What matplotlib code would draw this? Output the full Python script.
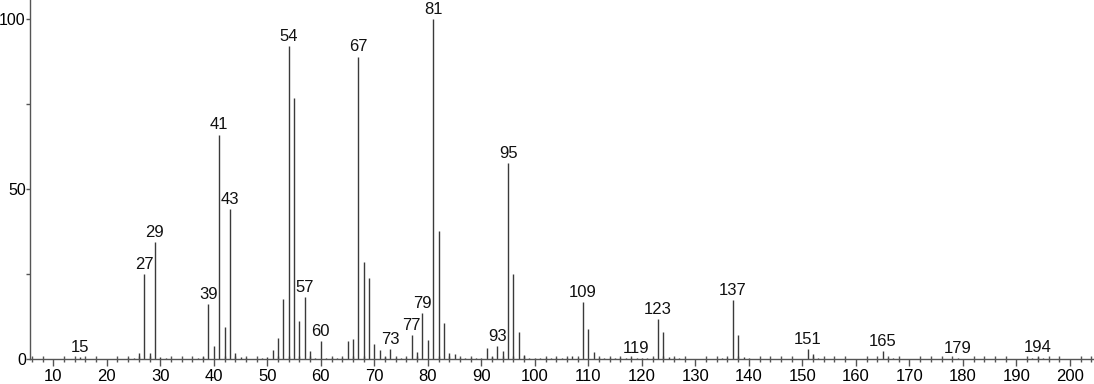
import matplotlib
matplotlib.use("Agg")
import matplotlib.pyplot as plt
from matplotlib.ticker import MultipleLocator

plt.rcParams["font.family"] = ["Liberation Sans", "DejaVu Sans"]

BAR_COLOR = "#3a3a3a"
AXIS_COLOR = "#555555"

# m/z values and relative intensities (%)
mz = [15, 24, 25, 26, 27, 28, 29, 30, 31, 37, 38, 39, 40, 41, 42, 43, 44, 45, 46,
      49, 50, 51, 52, 53, 54, 55, 56, 57, 58, 59, 60, 61, 62, 63, 64, 65, 66, 67,
      68, 69, 70, 71, 72, 73, 74, 75, 76, 77, 78, 79, 80, 81, 82, 83, 84, 85, 86,
      87, 88, 89, 90, 91, 92, 93, 94, 95, 96, 97, 98, 99, 100, 101, 102, 103, 104,
      105, 106, 107, 108, 109, 110, 111, 112, 113, 114, 115, 116, 117, 118, 119,
      120, 121, 122, 123, 124, 125, 126, 127, 135, 136, 137, 138, 139, 140, 151,
      152, 153, 165, 166, 167, 179, 193, 194, 195]
intensity = [0.6, 0.4, 0.5, 1.8, 25.0, 1.8, 34.3, 0.8, 0.4, 0.4, 0.6, 16.1, 4.0,
             66.0, 9.6, 44.0, 1.8, 0.8, 0.5, 0.3, 0.6, 2.7, 6.3, 17.7, 92.0, 76.8,
             11.2, 18.4, 2.5, 0.5, 5.3, 0.4, 0.4, 0.5, 0.4, 5.4, 5.9, 88.9, 28.7,
             24.0, 4.6, 2.8, 0.6, 3.0, 0.5, 0.4, 0.3, 7.1, 2.2, 13.5, 5.7, 100.0,
             37.8, 10.6, 1.8, 1.6, 0.5, 0.4, 0.3, 0.3, 0.3, 3.2, 0.6, 3.9, 2.4,
             57.5, 25.0, 7.9, 1.3, 0.3, 0.3, 0.3, 0.3, 0.3, 0.3, 0.3, 0.4, 1.1,
             0.4, 16.7, 8.9, 2.2, 0.5, 0.4, 0.3, 0.3, 0.3, 0.3, 0.3, 0.5, 0.3, 0.4,
             0.3, 11.8, 7.9, 0.8, 0.3, 0.3, 0.3, 0.4, 17.4, 7.1, 0.8, 0.3, 3.0,
             1.5, 0.4, 2.4, 0.5, 0.4, 0.4, 0.4, 0.6, 0.3]

labeled_peaks = [15, 27, 29, 39, 41, 43, 54, 57, 60, 67, 73, 77, 79, 81, 93, 95,
                 109, 119, 123, 137, 151, 165, 179, 194]

fig = plt.figure(figsize=(10.94, 3.84), dpi=100)
ax = fig.add_axes([30 / 1094, 24.7 / 384, 1 - 30 / 1094, 1 - 24.7 / 384])

ax.vlines(mz, 0, intensity, color=BAR_COLOR, linewidth=1.0)

lookup = dict(zip(mz, intensity))
for m in labeled_peaks:
    ax.annotate(str(m), (m, lookup[m]), xytext=(0, 1.5), textcoords="offset points",
                ha="center", va="bottom", fontsize=12, color="#111111")

ax.set_xlim(5.65, 204.5)
ax.set_ylim(0, 105.5)

ax.xaxis.set_major_locator(MultipleLocator(10))
ax.xaxis.set_minor_locator(MultipleLocator(2))
ax.yaxis.set_major_locator(MultipleLocator(50))
ax.yaxis.set_minor_locator(MultipleLocator(25))

ax.tick_params(axis="x", which="major", direction="out", length=5, width=1,
               color=AXIS_COLOR, labelsize=12, pad=2)
ax.tick_params(axis="x", which="minor", direction="inout", length=4, width=1,
               color=AXIS_COLOR)
ax.tick_params(axis="y", which="both", direction="out", length=3, width=1,
               color=AXIS_COLOR, labelsize=11.5, pad=0)

for side in ("top", "right"):
    ax.spines[side].set_visible(False)
for side in ("left", "bottom"):
    ax.spines[side].set_color(AXIS_COLOR)
    ax.spines[side].set_linewidth(1)

fig.savefig("out.png", dpi=100, facecolor="white")
